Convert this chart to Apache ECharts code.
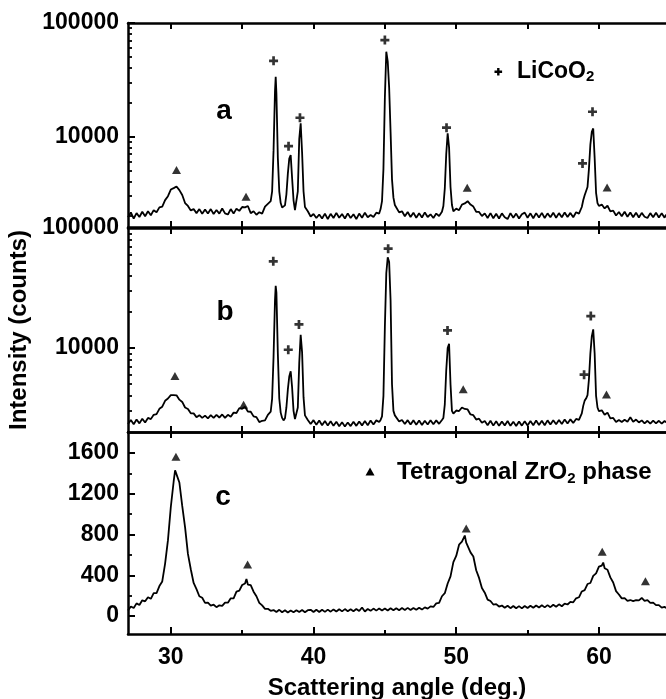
<!DOCTYPE html>
<html><head><meta charset="utf-8">
<script src="https://cdn.jsdelivr.net/npm/echarts@6/dist/echarts.min.js"></script>
<style>html,body{margin:0;padding:0;background:#fff}#c{width:666px;height:699px}</style>
</head><body><div id="c"></div><script>
const FONT = '"Liberation Sans", Arial, Helvetica, sans-serif';

// axis ticks / labels
const xTicksMajor = [30, 40, 50, 60];
const xTicksMinor = [35, 45, 55];
const xTicksAll = [30, 35, 40, 45, 50, 55, 60];
const logTicksMajor = [10000, 100000];
const logTicksMinorA = [2000, 3000, 4000, 5000, 6000, 7000, 8000, 9000, 20000, 30000, 40000, 50000, 60000, 70000, 80000, 90000];
const logTicksMinorB = [3000, 4000, 5000, 6000, 7000, 8000, 9000, 20000, 30000, 40000, 50000, 60000, 70000, 80000, 90000];
const linTicksMajor = [0, 400, 800, 1200, 1600];
const linTicksMinor = [200, 600, 1000, 1400];

// pattern a: [angle (deg), intensity (counts)]
const patternA = [
[27.0,1950],[27.2,2150],[27.4,1900],[27.6,2120],[27.8,1960],[28.0,2180],[28.2,1990],[28.4,2200],[28.6,2030],[28.8,2250],
[29.0,2160],[29.2,2380],[29.4,2420],[29.6,2760],[29.8,2990],[30.0,3420],[30.2,3520],[30.4,3640],[30.6,3380],[30.8,3060],
[31.0,2600],[31.2,2450],[31.4,2240],[31.6,2300],[31.8,2120],[32.0,2300],[32.2,2090],[32.4,2280],[32.6,2100],[32.8,2300],
[33.0,2080],[33.2,2260],[33.4,2100],[33.6,2330],[33.8,2110],[34.0,2060],[34.2,2300],[34.4,2100],[34.6,2320],[34.8,2220],
[35.0,2400],[35.2,2380],[35.4,2450],[35.6,2120],[35.8,2200],[36.0,2050],[36.2,2160],[36.4,2100],[36.6,2420],[36.8,2560],
[36.9,2600],[37.0,2700],[37.1,3300],[37.2,7600],[37.3,25000],[37.35,33600],[37.4,24000],[37.5,6500],[37.6,3300],[37.7,2600],
[37.8,2380],[37.9,2330],[38.0,2480],[38.1,3100],[38.2,4700],[38.3,6400],[38.4,6870],[38.5,4300],[38.6,2750],[38.7,2250],
[38.8,2200],[38.9,3300],[39.0,9500],[39.1,13070],[39.2,7200],[39.3,3300],[39.4,2400],[39.6,2200],[39.8,1980],[40.0,2080],
[40.2,1920],[40.4,2060],[40.6,1900],[40.8,2100],[41.0,1880],[41.2,2090],[41.4,1920],[41.6,2130],[41.8,1930],[42.0,2080],
[42.2,1900],[42.4,2110],[42.6,1920],[42.8,2070],[43.0,1880],[43.2,2100],[43.4,1930],[43.6,2140],[43.8,1950],[44.0,2040],
[44.2,1960],[44.4,2140],[44.6,2100],[44.7,2300],[44.8,2700],[44.9,5200],[45.0,22000],[45.1,55900],[45.2,46000],[45.3,27000],
[45.4,11000],[45.5,4200],[45.6,2900],[45.7,2500],[45.8,2450],[46.0,2150],[46.2,2200],[46.4,1990],[46.6,2170],[46.8,1960],
[47.0,2140],[47.2,1930],[47.4,2110],[47.6,1940],[47.8,2150],[48.0,1960],[48.2,2070],[48.4,1920],[48.6,2100],[48.8,2000],
[49.0,2180],[49.1,2450],[49.2,3500],[49.3,7000],[49.4,10700],[49.5,8000],[49.6,3600],[49.7,2500],[49.8,2200],[50.0,2320],
[50.2,2250],[50.4,2520],[50.6,2580],[50.8,2700],[51.0,2520],[51.2,2420],[51.4,2180],[51.6,2170],[51.8,2000],[52.0,2110],
[52.2,1920],[52.4,2120],[52.6,1910],[52.8,2090],[53.0,1900],[53.2,2110],[53.4,1950],[53.6,1880],[53.8,2120],[54.0,1930],
[54.2,2100],[54.4,1900],[54.6,2070],[54.8,2140],[55.0,1930],[55.2,2110],[55.4,1910],[55.6,2120],[55.8,1940],[56.0,2130],
[56.2,1920],[56.4,2110],[56.6,1950],[56.8,2140],[57.0,1930],[57.2,2120],[57.4,1950],[57.6,2150],[57.8,1960],[58.0,2130],
[58.2,1950],[58.4,2160],[58.6,2100],[58.8,2400],[58.9,2750],[59.0,3050],[59.1,3100],[59.2,3600],[59.3,5200],[59.4,8500],
[59.5,11000],[59.6,11800],[59.7,6500],[59.8,3200],[59.9,2600],[60.0,2450],[60.2,2520],[60.4,2330],[60.6,2460],[60.8,2200],
[61.0,2230],[61.2,2020],[61.4,2170],[61.6,1990],[61.8,2180],[62.0,1970],[62.2,2150],[62.4,1950],[62.6,2140],[62.8,1940],
[63.0,2130],[63.2,1970],[63.4,1920],[63.6,2120],[63.8,1950],[64.0,2140],[64.2,1940],[64.4,2110],[64.6,1930],[64.7,2060]
];

// pattern b
const patternB = [
[27.0,2330],[27.2,2520],[27.4,2320],[27.6,2540],[27.8,2360],[28.0,2580],[28.2,2400],[28.4,2620],[28.6,2560],[28.8,2780],
[29.0,2820],[29.2,3120],[29.4,3250],[29.6,3640],[29.8,3800],[30.0,4060],[30.2,4050],[30.4,4040],[30.6,3720],[30.8,3560],
[31.0,3200],[31.2,3110],[31.4,2860],[31.6,2860],[31.8,2660],[32.0,2760],[32.2,2620],[32.4,2740],[32.6,2600],[32.8,2760],
[33.0,2620],[33.2,2780],[33.4,2640],[33.6,2800],[33.8,2620],[34.0,2780],[34.2,2680],[34.4,2900],[34.6,2880],[34.8,3160],
[35.0,3120],[35.2,3240],[35.4,2960],[35.6,2950],[35.8,2700],[36.0,2660],[36.2,2420],[36.4,2480],[36.6,2500],[36.8,2780],
[36.9,2820],[37.0,2950],[37.1,3800],[37.2,8500],[37.3,25000],[37.35,33000],[37.4,29000],[37.5,9000],[37.6,3800],[37.7,2900],
[37.8,2620],[37.9,2500],[38.0,2600],[38.1,3200],[38.2,4500],[38.3,5800],[38.4,6400],[38.5,4700],[38.6,3000],[38.7,2560],
[38.8,2500],[38.9,3200],[39.0,7500],[39.1,12900],[39.2,9200],[39.3,3900],[39.4,2750],[39.6,2520],[39.8,2330],[40.0,2510],
[40.2,2300],[40.4,2490],[40.6,2280],[40.8,2470],[41.0,2270],[41.2,2460],[41.4,2250],[41.6,2440],[41.8,2230],[42.0,2410],
[42.2,2220],[42.4,2400],[42.6,2240],[42.8,2430],[43.0,2250],[43.2,2450],[43.4,2270],[43.6,2470],[43.8,2280],[44.0,2490],
[44.2,2310],[44.4,2500],[44.6,2420],[44.7,2520],[44.8,2700],[44.9,4000],[45.0,15000],[45.1,42000],[45.2,57000],[45.3,52000],
[45.4,25000],[45.5,5000],[45.6,3000],[45.7,2750],[45.8,2680],[46.0,2450],[46.2,2520],[46.4,2330],[46.6,2510],[46.8,2310],
[47.0,2500],[47.2,2300],[47.4,2490],[47.6,2290],[47.8,2480],[48.0,2310],[48.2,2510],[48.4,2320],[48.6,2500],[48.8,2340],
[49.0,2520],[49.1,2620],[49.2,3400],[49.3,6500],[49.4,10000],[49.5,10870],[49.6,5000],[49.7,3000],[49.8,2850],[50.0,3020],
[50.2,2990],[50.4,3200],[50.6,3110],[50.8,3080],[51.0,2800],[51.2,2760],[51.4,2540],[51.6,2580],[51.8,2390],[52.0,2470],
[52.2,2280],[52.4,2480],[52.6,2260],[52.8,2460],[53.0,2250],[53.2,2450],[53.4,2270],[53.6,2470],[53.8,2250],[54.0,2440],
[54.2,2240],[54.4,2450],[54.6,2260],[54.8,2460],[55.0,2270],[55.2,2470],[55.4,2280],[55.6,2490],[55.8,2290],[56.0,2480],
[56.2,2280],[56.4,2500],[56.6,2310],[56.8,2510],[57.0,2320],[57.2,2520],[57.4,2330],[57.6,2540],[57.8,2350],[58.0,2550],
[58.2,2380],[58.4,2570],[58.6,2520],[58.8,2860],[58.9,3300],[59.0,3650],[59.1,3800],[59.2,4050],[59.3,5500],[59.4,9000],
[59.5,12500],[59.6,14300],[59.7,9000],[59.8,4000],[59.9,3200],[60.0,2980],[60.2,3030],[60.4,2780],[60.6,2900],[60.8,2600],
[61.0,2620],[61.2,2420],[61.4,2520],[61.6,2420],[61.8,2530],[62.0,2440],[62.2,2650],[62.4,2430],[62.6,2540],[62.8,2400],
[63.0,2500],[63.2,2360],[63.4,2480],[63.6,2350],[63.8,2490],[64.0,2360],[64.2,2480],[64.4,2350],[64.6,2470],[64.7,2400]
];

// pattern c
const patternC = [
[27.0,55],[27.2,95],[27.4,80],[27.6,125],[27.8,110],[28.0,155],[28.2,145],[28.4,185],[28.6,170],[28.8,225],
[29.0,225],[29.2,295],[29.4,340],[29.6,515],[29.8,745],[30.0,1070],[30.2,1320],[30.3,1430],[30.4,1390],[30.6,1310],
[30.8,1080],[31.0,870],[31.2,610],[31.4,460],[31.6,325],[31.8,265],[32.0,195],[32.2,180],[32.4,130],[32.6,132],
[32.8,104],[33.0,112],[33.2,88],[33.4,106],[33.6,100],[33.8,132],[34.0,132],[34.2,175],[34.4,175],[34.6,240],
[34.8,250],[35.0,305],[35.2,320],[35.3,365],[35.4,310],[35.6,305],[35.8,240],[36.0,195],[36.2,130],[36.4,105],
[36.6,72],[36.8,72],[37.0,52],[37.2,60],[37.4,40],[37.6,62],[37.8,38],[38.0,58],[38.2,36],[38.4,56],
[38.6,38],[38.8,58],[39.0,40],[39.2,60],[39.4,38],[39.6,58],[39.8,62],[40.0,40],[40.2,62],[40.4,40],
[40.6,63],[40.8,42],[41.0,64],[41.2,44],[41.4,66],[41.6,46],[41.8,68],[42.0,47],[42.2,69],[42.4,49],
[42.6,68],[42.8,48],[43.0,70],[43.2,50],[43.4,85],[43.6,46],[43.8,70],[44.0,52],[44.2,74],[44.4,54],
[44.6,76],[44.8,56],[45.0,75],[45.2,55],[45.4,77],[45.6,57],[45.8,78],[46.0,58],[46.2,79],[46.4,60],
[46.6,81],[46.8,61],[47.0,80],[47.2,62],[47.4,83],[47.6,64],[47.8,86],[48.0,74],[48.2,96],[48.4,90],
[48.6,125],[48.8,130],[49.0,195],[49.2,225],[49.4,320],[49.6,390],[49.8,530],[50.0,590],[50.2,700],[50.4,730],
[50.6,790],[50.7,720],[50.8,730],[51.0,625],[51.2,585],[51.4,450],[51.6,375],[51.8,275],[52.0,230],[52.2,162],
[52.4,148],[52.6,114],[52.8,118],[53.0,94],[53.2,104],[53.4,82],[53.6,102],[53.8,78],[54.0,100],[54.2,77],
[54.4,98],[54.6,76],[54.8,100],[55.0,80],[55.2,102],[55.4,82],[55.6,104],[55.8,84],[56.0,106],[56.2,86],
[56.4,108],[56.6,88],[56.8,112],[57.0,92],[57.2,116],[57.4,97],[57.6,123],[57.8,114],[58.0,140],[58.2,136],
[58.4,175],[58.6,185],[58.8,242],[59.0,255],[59.2,315],[59.4,325],[59.6,395],[59.8,420],[60.0,485],[60.2,495],
[60.3,525],[60.4,470],[60.6,455],[60.8,380],[61.0,330],[61.2,245],[61.4,212],[61.6,174],[61.8,176],[62.0,150],
[62.2,158],[62.4,148],[62.6,156],[62.8,154],[63.0,178],[63.2,150],[63.4,158],[63.6,130],[63.8,132],[64.0,108],
[64.2,108],[64.4,84],[64.6,92],[64.7,78]
];

// peak markers: [angle, intensity]
const licoo2MarksA = [[37.2,46500],[38.25,8240],[39.05,14650],[45.0,70800],[49.32,11970],[58.85,5800],[59.55,16550]];
const zro2MarksA = [[30.4,5070],[35.27,2950],[50.77,3540],[60.57,3560]];
const licoo2MarksB = [[37.18,52800],[38.23,9680],[38.98,15750],[45.23,67300],[49.39,14040],[58.96,6000],[59.43,18480]];
const zro2MarksB = [[30.29,5840],[35.1,3370],[50.49,4530],[60.53,4110]];
const zro2MarksC = [[30.36,1562],[35.38,506],[50.7,859],[60.23,630],[63.26,343]];

const XMIN = 27, XMAX = 64.7;
const BLACK = '#000';
const PLUS = 'path://M3.5,0H6.5V3.5H10V6.5H6.5V10H3.5V6.5H0V3.5H3.5Z';

function xAxis(grid, pos, ticks, len, extra) {
  return Object.assign({
    gridIndex: grid, type: 'value', position: pos, min: XMIN, max: XMAX,
    axisLine: { show: true, onZero: false, lineStyle: { color: BLACK, width: 2.5 } },
    axisTick: { show: true, inside: true, length: len, customValues: ticks, lineStyle: { color: BLACK, width: 2 } },
    axisLabel: { show: false }, splitLine: { show: false }
  }, extra || {});
}
const labelStyle = { color: BLACK, fontSize: 23, fontWeight: 'bold', fontFamily: FONT };
function yMajor(grid, type, min, max, ticks, extra) {
  return Object.assign({
    gridIndex: grid, type: type, position: 'left', min: min, max: max,
    axisLine: { show: true, onZero: false, lineStyle: { color: BLACK, width: 2.5 } },
    axisTick: { show: true, inside: true, length: 7, customValues: ticks, lineStyle: { color: BLACK, width: 2 } },
    axisLabel: Object.assign({ customValues: ticks, margin: 9, formatter: v => String(Math.round(v)) }, labelStyle),
    splitLine: { show: false }
  }, extra || {});
}
function yMinor(grid, type, min, max, ticks) {
  return {
    gridIndex: grid, type: type, position: 'left', min: min, max: max,
    axisLine: { show: false, onZero: false },
    axisTick: { show: true, inside: true, length: 4, customValues: ticks, lineStyle: { color: BLACK, width: 1.8 } },
    axisLabel: { show: false }, splitLine: { show: false }
  };
}
function lineSeries(xi, yi, data) {
  return { type: 'line', xAxisIndex: xi, yAxisIndex: yi, data: data, showSymbol: false, symbol: 'none',
    lineStyle: { color: BLACK, width: 1.8 }, animation: false, silent: true, z: 2 };
}
function markSeries(xi, yi, data, symbol, size) {
  return { type: 'scatter', xAxisIndex: xi, yAxisIndex: yi, data: data, symbol: symbol, symbolSize: size,
    itemStyle: { color: BLACK }, animation: false, silent: true, z: 3 };
}

const chart = echarts.init(document.getElementById('c'), null, { renderer: 'canvas' });
chart.setOption({
  backgroundColor: '#fff',
  animation: false,
  grid: [
    { left: 128, right: 0, top: 23, height: 204, outerBoundsMode: 'none' },
    { left: 128, right: 0, top: 228, height: 204, outerBoundsMode: 'none' },
    { left: 128, right: 0, top: 432, height: 202, outerBoundsMode: 'none' }
  ],
  xAxis: [
    xAxis(0, 'bottom', xTicksAll, 6),
    xAxis(0, 'top', xTicksAll, 6),
    xAxis(1, 'bottom', xTicksAll, 6),
    xAxis(1, 'top', xTicksAll, 6),
    xAxis(2, 'bottom', xTicksMajor, 7, {
      axisLabel: Object.assign({ show: true, customValues: xTicksMajor, margin: 12 }, labelStyle),
      name: 'Scattering angle (deg.)', nameLocation: 'middle', nameGap: 42,
      nameTextStyle: { color: BLACK, fontSize: 24, fontWeight: 'bold', fontFamily: FONT }
    }),
    xAxis(2, 'bottom', xTicksMinor, 4, { axisLine: { show: false, onZero: false } }),
    xAxis(2, 'top', xTicksAll, 6)
  ],
  yAxis: [
    yMajor(0, 'log', 1600, 100000, logTicksMajor),
    yMinor(0, 'log', 1600, 100000, logTicksMinorA),
    yMajor(1, 'log', 2000, 100000, logTicksMajor, {
      name: 'Intensity (counts)', nameLocation: 'middle', nameGap: 86,
      nameTextStyle: { color: BLACK, fontSize: 24, fontWeight: 'bold', fontFamily: FONT }
    }),
    yMinor(1, 'log', 2000, 100000, logTicksMinorB),
    yMajor(2, 'value', -175, 1805, linTicksMajor),
    yMinor(2, 'value', -175, 1805, linTicksMinor)
  ],
  series: [
    lineSeries(0, 0, patternA),
    markSeries(0, 0, licoo2MarksA, PLUS, 9),
    markSeries(0, 0, zro2MarksA, 'triangle', [9, 8]),
    lineSeries(2, 2, patternB),
    markSeries(2, 2, licoo2MarksB, PLUS, 9),
    markSeries(2, 2, zro2MarksB, 'triangle', [9, 8]),
    lineSeries(4, 4, patternC),
    markSeries(4, 4, zro2MarksC, 'triangle', [9, 8])
  ],
  graphic: [
    { type: 'text', x: 224, y: 111.5, style: { text: 'a', fill: BLACK, font: 'bold 28px ' + FONT, align: 'center', verticalAlign: 'middle' } },
    { type: 'text', x: 225, y: 312, style: { text: 'b', fill: BLACK, font: 'bold 28px ' + FONT, align: 'center', verticalAlign: 'middle' } },
    { type: 'text', x: 223, y: 497.5, style: { text: 'c', fill: BLACK, font: 'bold 28px ' + FONT, align: 'center', verticalAlign: 'middle' } },
    { type: 'polygon', shape: { points: [[497.1,67.9],[499.5,67.9],[499.5,70.5],[502.1,70.5],[502.1,72.9],[499.5,72.9],[499.5,75.5],[497.1,75.5],[497.1,72.9],[494.5,72.9],[494.5,70.5],[497.1,70.5]] }, style: { fill: BLACK } },
    { type: 'text', x: 517, y: 57.8, style: {
        text: '{m|LiCoO}{s|2}', align: 'left', verticalAlign: 'top', fill: BLACK,
        rich: {
          m: { fontSize: 23, fontWeight: 'bold', fontFamily: FONT, lineHeight: 27, verticalAlign: 'middle', fill: BLACK },
          s: { fontSize: 15, fontWeight: 'bold', fontFamily: FONT, lineHeight: 12.6, verticalAlign: 'bottom', fill: BLACK }
        } } },
    { type: 'polygon', shape: { points: [[365.5,475.5],[374.5,475.5],[370,467.5]] }, style: { fill: BLACK } },
    { type: 'text', x: 397, y: 458, style: {
        text: '{m|Tetragonal ZrO}{s|2}{m| phase}', align: 'left', verticalAlign: 'top', fill: BLACK,
        rich: {
          m: { fontSize: 24, fontWeight: 'bold', fontFamily: FONT, lineHeight: 28, verticalAlign: 'middle', fill: BLACK },
          s: { fontSize: 15, fontWeight: 'bold', fontFamily: FONT, lineHeight: 13, verticalAlign: 'bottom', fill: BLACK }
        } } }
  ]
});
</script></body></html>
